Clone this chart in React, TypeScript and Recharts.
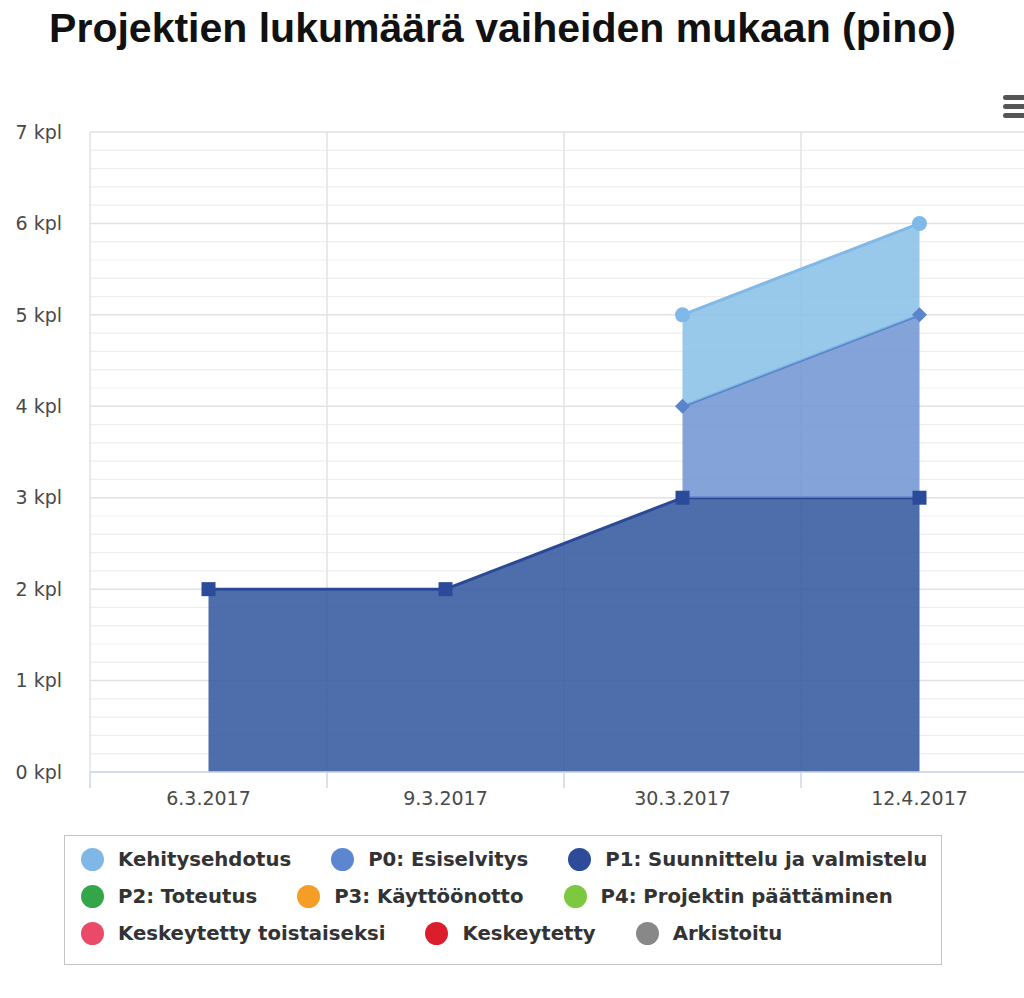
import React from 'react'
import { AreaChart, Area, XAxis, YAxis, CartesianGrid } from 'recharts'

// --- data ---
const categories = ['6.3.2017', '9.3.2017', '30.3.2017', '12.4.2017']
const kehitysehdotus = [null, null, 1, 1]
const p0Esiselvitys = [null, null, 1, 2]
const p1Suunnittelu = [2, 2, 3, 3]
const yTicks = [0, 1, 2, 3, 4, 5, 6, 7]
const minorTicks = [
    0.2, 0.4, 0.6, 0.8, 1.2, 1.4, 1.6, 1.8, 2.2, 2.4, 2.6, 2.8, 3.2, 3.4, 3.6, 3.8,
    4.2, 4.4, 4.6, 4.8, 5.2, 5.4, 5.6, 5.8, 6.2, 6.4, 6.6, 6.8,
]
const Y_MAX = 7

const legendRows = [
    [
        { name: 'Kehitysehdotus', color: '#7fb7e6' },
        { name: 'P0: Esiselvitys', color: '#5c86cf' },
        { name: 'P1: Suunnittelu ja valmistelu', color: '#2d4b98' },
    ],
    [
        { name: 'P2: Toteutus', color: '#33a64a' },
        { name: 'P3: Käyttöönotto', color: '#f59d25' },
        { name: 'P4: Projektin päättäminen', color: '#7dc840' },
    ],
    [
        { name: 'Keskeytetty toistaiseksi', color: '#ea4a67' },
        { name: 'Keskeytetty', color: '#dc1d2b' },
        { name: 'Arkistoitu', color: '#888888' },
    ],
]

const data = categories.map((name, i) => ({
    name,
    p1: p1Suunnittelu[i],
    p0: p0Esiselvitys[i],
    keh: kehitysehdotus[i],
}))

const BAND_HALF = 118.5
const AXIS_COLOR = '#ccd6eb'
const LABEL_FONT = 'DejaVu Sans, Verdana, sans-serif'

// marker shapes (circle, diamond, square like the original)
const circleDot = (color: string) => (props: any) => {
    const { cx, cy, index } = props
    if (cy == null || data[index].keh == null) return <g key={`c${index}`} />
    return <circle key={`c${index}`} cx={cx} cy={cy} r={7.5} fill={color} />
}
const diamondDot = (color: string) => (props: any) => {
    const { cx, cy, index } = props
    if (cy == null || data[index].p0 == null) return <g key={`d${index}`} />
    const s = 7.5
    return <path key={`d${index}`} d={`M${cx},${cy - s}L${cx + s},${cy}L${cx},${cy + s}L${cx - s},${cy}Z`} fill={color} />
}
const squareDot = (color: string) => (props: any) => {
    const { cx, cy, index } = props
    if (cy == null) return <g key={`s${index}`} />
    return <rect key={`s${index}`} x={cx - 7} y={cy - 7} width={14} height={14} fill={color} />
}

const XTick = (props: any) => {
    const { x, y, payload } = props
    return (
        <g>
            <line x1={x - BAND_HALF} x2={x - BAND_HALF} y1={y} y2={y + 16} stroke={AXIS_COLOR} strokeWidth={1.5} />
            <text x={x} y={y + 20} dy="0.71em" textAnchor="middle" fill="#4a4a4a" fontSize={19} fontFamily={LABEL_FONT}>
                {payload.value}
            </text>
        </g>
    )
}

// minor horizontal lines: use the y scale when the grid hands it over
const minorLines = ({ yAxis, offset }: any) =>
    minorTicks.map((v) =>
        yAxis && typeof yAxis.scale === 'function'
            ? yAxis.scale(v)
            : offset.top + offset.height * (1 - v / Y_MAX)
    )

export default function App() {
    return (
        <div style={{ position: 'absolute', left: 0, top: 0, width: 1024, height: 998, overflow: 'hidden', background: '#fff' }}>
            <div
                style={{
                    position: 'absolute', top: 8, left: 0, width: 1005, textAlign: 'center',
                    fontFamily: 'Liberation Sans, Arial, sans-serif', fontWeight: 700, fontSize: 41,
                    lineHeight: '41px', color: '#111', whiteSpace: 'nowrap',
                }}
            >
                Projektien lukumäärä vaiheiden mukaan (pino)
            </div>

            {/* export menu icon */}
            {[97, 106, 115].map((t) => (
                <div key={t} style={{ position: 'absolute', left: 1003, top: t - 2, width: 30, height: 5, borderRadius: 3, background: '#555' }} />
            ))}

            <div style={{ position: 'absolute', left: 0, top: 0 }}>
                <AreaChart width={1060} height={830} data={data} margin={{ top: 132, right: 22, bottom: 0, left: 0 }}>
                    <CartesianGrid vertical={false} stroke="#efefef" strokeWidth={1.2} horizontalCoordinatesGenerator={minorLines} />
                    <CartesianGrid
                        stroke="#e2e2e2"
                        strokeWidth={1.5}
                        verticalCoordinatesGenerator={({ offset }: any) =>
                            categories.map((_, i) => offset.left + (i * offset.width) / categories.length)
                        }
                    />
                    <XAxis
                        dataKey="name"
                        interval={0}
                        padding={{ left: BAND_HALF, right: BAND_HALF }}
                        height={58}
                        tickSize={0}
                        tickMargin={0}
                        tickLine={false}
                        axisLine={{ stroke: AXIS_COLOR, strokeWidth: 1.5 }}
                        tick={<XTick />}
                    />
                    <YAxis
                        domain={[0, Y_MAX]}
                        ticks={yTicks}
                        interval={0}
                        width={90}
                        axisLine={false}
                        tickLine={false}
                        tickSize={0}
                        tickMargin={28}
                        tickFormatter={(v) => `${v} kpl`}
                        tick={{ fill: '#4a4a4a', fontSize: 19, fontFamily: LABEL_FONT }}
                    />
                    <Area
                        type="linear"
                        dataKey="p1"
                        name="P1: Suunnittelu ja valmistelu"
                        stackId="a"
                        stroke="#2a4a98"
                        strokeWidth={3}
                        fill="#2f549c"
                        fillOpacity={0.85}
                        dot={squareDot('#2b4a9a')}
                        activeDot={false}
                        isAnimationActive={false}
                    />
                    <Area
                        type="linear"
                        dataKey="p0"
                        name="P0: Esiselvitys"
                        stackId="a"
                        stroke="#5a84cc"
                        strokeWidth={3}
                        fill="#6e93d1"
                        fillOpacity={0.85}
                        dot={diamondDot('#5a84cc')}
                        activeDot={false}
                        isAnimationActive={false}
                    />
                    <Area
                        type="linear"
                        dataKey="keh"
                        name="Kehitysehdotus"
                        stackId="a"
                        stroke="#80b8e8"
                        strokeWidth={3}
                        fill="#87bfe6"
                        fillOpacity={0.85}
                        dot={circleDot('#80b8e8')}
                        activeDot={false}
                        isAnimationActive={false}
                    />
                </AreaChart>
            </div>

            <div
                style={{
                    position: 'absolute', left: 64, top: 835, width: 878, height: 130, boxSizing: 'border-box',
                    border: '1.5px solid #c4c4c4', paddingTop: 5, paddingLeft: 16, background: '#fff',
                }}
            >
                {legendRows.map((row, r) => (
                    <div key={r} style={{ display: 'flex', alignItems: 'center', height: 37 }}>
                        {row.map((item) => (
                            <div key={item.name} style={{ display: 'flex', alignItems: 'center', marginRight: 40 }}>
                                <span style={{ width: 23, height: 23, borderRadius: '50%', background: item.color, display: 'inline-block' }} />
                                <span
                                    style={{
                                        marginLeft: 14, fontFamily: LABEL_FONT, fontWeight: 700, fontSize: 19.7,
                                        color: '#333', whiteSpace: 'nowrap',
                                    }}
                                >
                                    {item.name}
                                </span>
                            </div>
                        ))}
                    </div>
                ))}
            </div>
        </div>
    )
}
